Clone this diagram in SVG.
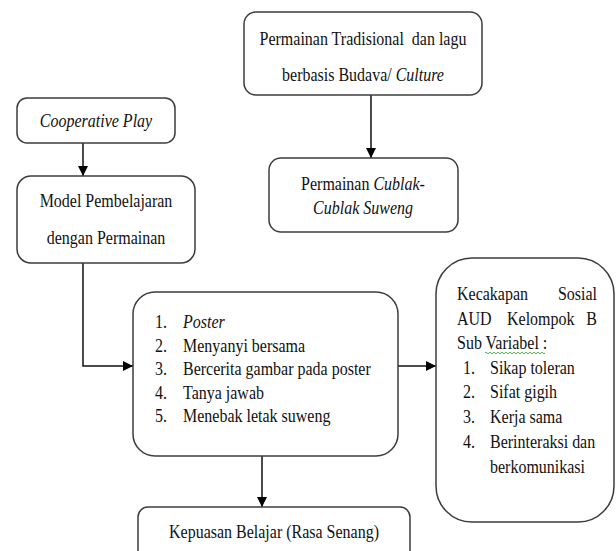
<svg xmlns="http://www.w3.org/2000/svg" width="616" height="551" viewBox="0 0 616 551">
<style>
.box{fill:#fff;stroke:#3c3c3c;stroke-width:1.5}
.t{font-family:"Liberation Serif","Times New Roman",serif;font-size:19.5px;fill:#111;white-space:pre}
.c{text-anchor:middle}
.e{text-anchor:end}
.i{font-style:italic}
.ln{fill:none;stroke:#111;stroke-width:1.5}
</style>
<defs>
<marker id="ah" viewBox="0 0 10 10" refX="10" refY="5" markerWidth="10" markerHeight="10" markerUnits="userSpaceOnUse" orient="auto">
<path d="M0,0 L10,5 L0,10 Z" fill="#000"/>
</marker>
</defs>
<rect width="616" height="551" fill="#fff"/>
<g id="connectors">
<path class="ln" d="M371,95 V158" marker-end="url(#ah)"/>
<path class="ln" d="M83,143 V176" marker-end="url(#ah)"/>
<path class="ln" d="M83,263 V366 H133" marker-end="url(#ah)"/>
<path class="ln" d="M398,366 H436" marker-end="url(#ah)"/>
<path class="ln" d="M262,456 V507" marker-end="url(#ah)"/>
</g>
<g id="node-tradisional">
<rect class="box" x="244" y="12" width="238" height="83" rx="12"/>
<text class="t c" transform="translate(363,45) scale(0.82,1)">Permainan Tradisional  dan lagu</text>
<text class="t c" transform="translate(363,81) scale(0.82,1)">berbasis Budava/ <tspan class="i">Culture</tspan></text>
</g>
<g id="node-cooperative">
<rect class="box" x="17" y="98" width="158" height="45" rx="10"/>
<text class="t c i" transform="translate(96,127) scale(0.82,1)">Cooperative Play</text>
</g>
<g id="node-cublak">
<rect class="box" x="269" y="158" width="189" height="74" rx="12"/>
<text class="t c" transform="translate(363,190) scale(0.82,1)">Permainan <tspan class="i">Cublak-</tspan></text>
<text class="t c i" transform="translate(363,214) scale(0.82,1)">Cublak Suweng</text>
</g>
<g id="node-model">
<rect class="box" x="17" y="176" width="178" height="87" rx="14"/>
<text class="t c" transform="translate(106,207) scale(0.82,1)">Model Pembelajaran</text>
<text class="t c" transform="translate(106,244) scale(0.82,1)">dengan Permainan</text>
</g>
<g id="node-kegiatan">
<rect class="box" x="133" y="292" width="265" height="164" rx="22"/>
<text class="t" transform="translate(155,328) scale(0.82,1)">1.</text><text class="t i" transform="translate(183,328) scale(0.82,1)">Poster</text>
<text class="t" transform="translate(155,351.5) scale(0.82,1)">2.</text><text class="t" transform="translate(183,351.5) scale(0.82,1)">Menyanyi bersama</text>
<text class="t" transform="translate(155,375) scale(0.82,1)">3.</text><text class="t" transform="translate(183,375) scale(0.82,1)">Bercerita gambar pada poster</text>
<text class="t" transform="translate(155,398.5) scale(0.82,1)">4.</text><text class="t" transform="translate(183,398.5) scale(0.82,1)">Tanya jawab</text>
<text class="t" transform="translate(155,422) scale(0.82,1)">5.</text><text class="t" transform="translate(183,422) scale(0.82,1)">Menebak letak suweng</text>
</g>
<g id="node-kecakapan">
<rect class="box" x="436" y="258" width="178" height="264" rx="36"/>
<text class="t" transform="translate(457,300) scale(0.82,1)">Kecakapan</text><text class="t e" transform="translate(597,300) scale(0.82,1)">Sosial</text>
<text class="t" transform="translate(457,324.5) scale(0.82,1)">AUD</text><text class="t" transform="translate(507,324.5) scale(0.82,1)">Kelompok</text><text class="t e" transform="translate(597,324.5) scale(0.82,1)">B</text>
<text class="t" transform="translate(457,349) scale(0.82,1)">Sub Variabel :</text>
<path d="M485,353 q1,-1.5 2,0 t2,0 t2,0 t2,0 t2,0 t2,0 t2,0 t2,0 t2,0 t2,0 t2,0 t2,0 t2,0 t2,0 t2,0 t2,0 t2,0 t2,0 t2,0 t2,0 t2,0 t2,0 t2,0 t2,0 t2,0 t2,0 t2,0 t2,0 t2,0 t2,0" fill="none" stroke="#3fa33f" stroke-width="0.9"/>
<text class="t" transform="translate(463,373.5) scale(0.82,1)">1.</text><text class="t" transform="translate(490,373.5) scale(0.82,1)">Sikap toleran</text>
<text class="t" transform="translate(463,398) scale(0.82,1)">2.</text><text class="t" transform="translate(490,398) scale(0.82,1)">Sifat gigih</text>
<text class="t" transform="translate(463,423) scale(0.82,1)">3.</text><text class="t" transform="translate(490,423) scale(0.82,1)">Kerja sama</text>
<text class="t" transform="translate(463,448) scale(0.82,1)">4.</text><text class="t" transform="translate(490,448) scale(0.82,1)">Berinteraksi dan</text>
<text class="t" transform="translate(490,473) scale(0.82,1)">berkomunikasi</text>
</g>
<g id="node-kepuasan">
<rect class="box" x="138" y="507" width="272" height="60" rx="10"/>
<text class="t c" transform="translate(274,538) scale(0.82,1)">Kepuasan Belajar (Rasa Senang)</text>
</g>
</svg>
